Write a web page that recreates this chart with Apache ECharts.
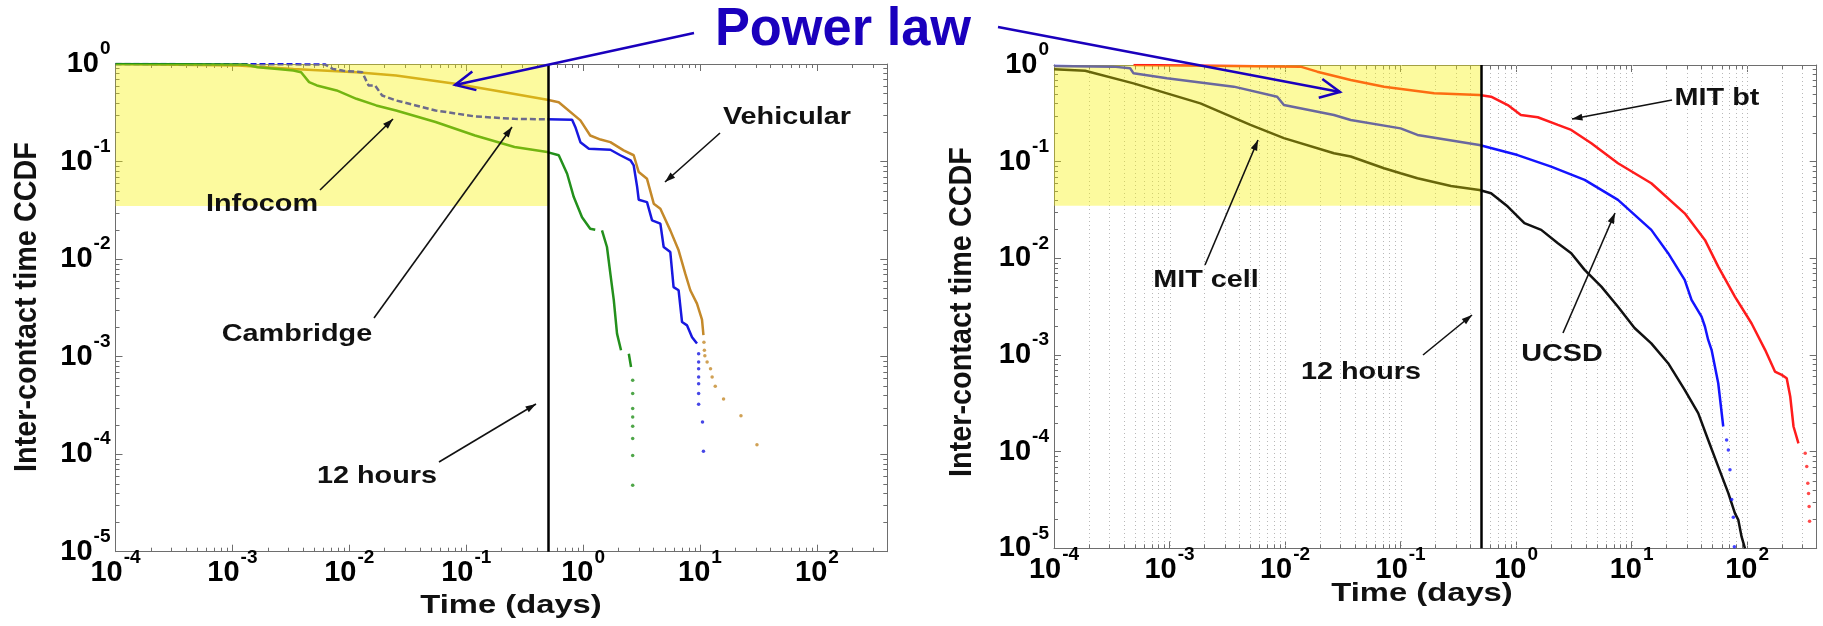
<!DOCTYPE html>
<html>
<head>
<meta charset="utf-8">
<title>Inter-contact time CCDF</title>
<script src="https://cdn.jsdelivr.net/npm/echarts@6/dist/echarts.min.js"></script>
<style>
  html, body { margin: 0; padding: 0; background: #fff; }
  #chart { width: 1823px; height: 626px; }
</style>
</head>
<body>
<div id="chart"></div>
<script>
// axis ranges (days / CCDF)
const xRange = [0.0001, 400];
const yRange = [0.00001, 1];
const minorSteps = [2, 3, 4, 5, 6, 7, 8, 9];
const xDecades = [-4, -3, -2, -1, 0, 1, 2];
const yDecades = [-5, -4, -3, -2, -1];
// yellow "power law" zone and the 12 hours line
const zoneT = [0.0001, 0.5];
const zoneP = [0.035, 1];
const twelveHours = 0.5;

// ---- left panel ----
const vehicularT = [0.0001, 0.00112, 0.00332, 0.0115, 0.0251, 0.0805, 0.175, 0.494, 0.619, 0.948, 1.15, 1.41, 1.71, 2.22, 2.71, 2.99, 3.52, 4.02, 4.58, 5.57, 6.56, 7.48, 8.26, 9.42, 10.4, 10.7];
const vehicularP = [1.0, 0.966, 0.891, 0.824, 0.762, 0.627, 0.536, 0.430, 0.406, 0.264, 0.185, 0.168, 0.158, 0.130, 0.116, 0.078, 0.0665, 0.037, 0.0328, 0.0197, 0.0123, 0.00708, 0.00479, 0.00349, 0.0024, 0.00166];
const vehicularTailT = [10.8, 10.9, 11.0, 11.5, 12.3, 12.7, 13.5, 15.9, 22.4, 30.7];
const vehicularTailP = [0.0014, 0.00116, 0.00102, 0.00088, 0.000753, 0.000617, 0.000497, 0.000368, 0.000248, 0.000125];

const cambridgeT = [0.0001, 0.00618, 0.00721, 0.0089, 0.0129, 0.0146, 0.0166, 0.0191, 0.0251, 0.037, 0.0547, 0.119, 0.259, 0.494, 0.805, 0.859, 0.948, 1.12, 1.71, 2.08, 2.54, 2.71, 2.90, 2.99, 3.52, 3.89, 4.58, 4.89, 5.57, 5.94, 6.56, 7.02, 7.75, 8.55, 9.42];
const cambridgeP = [1.0, 0.99, 0.891, 0.851, 0.824, 0.603, 0.603, 0.475, 0.423, 0.376, 0.334, 0.29, 0.274, 0.271, 0.268, 0.225, 0.158, 0.135, 0.132, 0.116, 0.103, 0.0912, 0.0547, 0.0406, 0.0384, 0.0249, 0.0231, 0.0133, 0.0118, 0.00516, 0.00479, 0.00226, 0.00209, 0.00158, 0.00136];
const cambridgeTailT = [9.73, 9.73, 9.73, 9.73, 9.73, 9.73, 9.73, 10.5, 10.7];
const cambridgeTailP = [0.00107, 0.000881, 0.000753, 0.000618, 0.000528, 0.000418, 0.000324, 0.000214, 0.000107];

// null in P = break in the curve
const infocomT = [0.0001, 0.0013, 0.00164, 0.00243, 0.00332, 0.00387, 0.00453, 0.00528, 0.0078, 0.0115, 0.017, 0.0251, 0.0547, 0.119, 0.259, 0.494, 0.619, 0.73, 0.832, 0.979, 1.15, 1.27, 1.36, 1.45, 1.60, 1.71, 1.83, 1.95, 2.11, 2.28, 2.46, 2.57];
const infocomP = [1.0, 0.99, 0.927, 0.891, 0.857, 0.824, 0.652, 0.603, 0.536, 0.44, 0.376, 0.334, 0.254, 0.185, 0.141, 0.125, 0.116, 0.075, 0.0432, 0.0269, 0.0205, 0.02, null, 0.0197, 0.0133, 0.00708, 0.0038, 0.00172, 0.00116, null, 0.00107, 0.000783];
const infocomTailT = [2.655, 2.655, 2.655, 2.655, 2.655, 2.655, 2.655, 2.655];
const infocomTailP = [0.000571, 0.000418, 0.000293, 0.00024, 0.000193, 0.000145, 0.000097, 0.000048];

// ---- right panel ----
const mitCellT = [0.0001, 0.000186, 0.000488, 0.00185, 0.00502, 0.00977, 0.0265, 0.037, 0.0719, 0.1, 0.14, 0.273, 0.481, 0.607, 0.847, 1.18, 1.65, 2.3, 3.0, 3.92, 5.47, 7.62, 10.6, 14.8, 20.7, 28.8, 37.7, 46.0, 56.2, 68.7, 78.3, 83.8, 89.5, 95.7];
const mitCellP = [0.905, 0.873, 0.646, 0.401, 0.24, 0.175, 0.122, 0.113, 0.0855, 0.0759, 0.0673, 0.0561, 0.0509, 0.0471, 0.0343, 0.0231, 0.0197, 0.0143, 0.0113, 0.00759, 0.00509, 0.00316, 0.0019, 0.00132, 0.000822, 0.000436, 0.00025, 0.000132, 0.00007, 0.0000372, 0.0000231, 0.0000197, 0.0000132, 0.00001];

const ucsdT = [0.0001, 0.000327, 0.000456, 0.000488, 0.00095, 0.0036, 0.00855, 0.00977, 0.0265, 0.037, 0.1, 0.14, 0.481, 1.03, 2.01, 3.92, 7.62, 14.8, 20.7, 28.8, 33.0, 40.3, 43.1, 46.0, 49.2, 56.2, 62.1];
const ucsdP = [0.977, 0.962, 0.925, 0.82, 0.728, 0.597, 0.47, 0.385, 0.304, 0.27, 0.221, 0.189, 0.149, 0.117, 0.0889, 0.0647, 0.0402, 0.0197, 0.0113, 0.00598, 0.00372, 0.00249, 0.00197, 0.00143, 0.00113, 0.00051, 0.000182];
const ucsdTailT = [66.4, 68.7, 71.0, 73.5, 75.9, 77.5];
const ucsdTailP = [0.000132, 0.000104, 0.000065, 0.000032, 0.000021, 0.0000104];

const mitBtT = [0.000488, 0.0036, 0.0136, 0.019, 0.037, 0.0719, 0.195, 0.481, 0.607, 0.847, 1.10, 1.54, 2.3, 3.0, 4.48, 7.62, 14.8, 28.8, 43.1, 56.2, 78.3, 109, 143, 174, 199, 220, 236, 252, 278];
const mitBtP = [1.0, 0.977, 0.962, 0.853, 0.70, 0.597, 0.509, 0.49, 0.47, 0.385, 0.304, 0.288, 0.24, 0.213, 0.155, 0.0962, 0.0598, 0.0292, 0.0155, 0.0082, 0.00402, 0.00213, 0.00113, 0.000673, 0.000622, 0.000575, 0.000372, 0.000182, 0.000122];
const mitBtTailT = [318, 328, 335, 340, 344, 347];
const mitBtTailP = [0.000096, 0.00007, 0.000047, 0.000037, 0.000027, 0.000019];

const FONT = '"Liberation Sans", Arial, sans-serif';
const frameColor = '#6e6e6e';
const zoneColor = 'rgba(248, 242, 0, 0.38)';

const pairs = (ts, ps) => ts.map((t, i) => ps[i] === null ? [t, '-'] : [t, ps[i]]);

// minor tick positions on the log axes
const minorX = [];
xDecades.forEach(d => minorSteps.forEach(k => { const v = k * Math.pow(10, d); if (v < xRange[1]) minorX.push(v); }));
const majorX = xDecades.map(d => Math.pow(10, d));
const minorY = [];
yDecades.forEach(d => minorSteps.forEach(k => minorY.push(k * Math.pow(10, d))));

function powerLabel(v) {
    const e = Math.log10(v);
    const r = Math.round(e);
    if (Math.abs(e - r) > 1e-6) return '';
    return '{b|10}{s|' + r + '}';
}
// the padding lifts the exponent above the digits
const labelRich = {
    b: { fontFamily: FONT, fontWeight: 'bold', fontSize: 29, color: '#000', lineHeight: 29, padding: [10, 0, 10, 0] },
    s: { fontFamily: FONT, fontWeight: 'bold', fontSize: 19, color: '#000', lineHeight: 19, padding: [0, 0, 30, 1] }
};
const labelBase = { show: true, interval: 0, formatter: powerLabel, rich: labelRich, fontFamily: FONT, fontWeight: 'bold', fontSize: 29, color: '#000' };

function makeXAxes(gridIndex) {
    const base = {
        type: 'log', logBase: 10, gridIndex: gridIndex, min: xRange[0], max: xRange[1],
        splitLine: { show: false },
        axisLine: { show: true, onZero: false, lineStyle: { color: frameColor, width: 1 } },
        axisTick: { show: true, inside: true, length: 7, lineStyle: { color: frameColor } }
    };
    return [
        Object.assign({}, base, { position: 'bottom', axisLabel: Object.assign({ margin: 7 }, labelBase) }),
        Object.assign({}, base, { position: 'top', axisLabel: { show: false } })
    ];
}
function makeYAxes(gridIndex) {
    const base = {
        type: 'log', logBase: 10, gridIndex: gridIndex, min: yRange[0], max: yRange[1],
        splitLine: { show: false },
        axisLine: { show: true, onZero: false, lineStyle: { color: frameColor, width: 1 } },
        axisTick: { show: true, inside: true, length: 7, lineStyle: { color: frameColor } }
    };
    return [
        Object.assign({}, base, { position: 'left', axisLabel: Object.assign({ margin: 5 }, labelBase) }),
        Object.assign({}, base, { position: 'right', axisLabel: { show: false } })
    ];
}

// minor ticks on all four sides (+ dotted x grid on the right panel)
function decorSeries(axisIdx, withGrid) {
    return {
        type: 'custom', xAxisIndex: axisIdx.x, yAxisIndex: axisIdx.y, z: 1, silent: true,
        data: [[xRange[0], yRange[0]]],
        renderItem: function (params, api) {
            const cs = params.coordSys;
            const left = cs.x, right = cs.x + cs.width, top = cs.y, bottom = cs.y + cs.height;
            const kids = [];
            const tick = { stroke: frameColor, lineWidth: 1 };
            if (withGrid) {
                majorX.concat(minorX).forEach(v => {
                    const px = Math.round(api.coord([v, yRange[1]])[0]) + 0.5;
                    if (px <= left + 1 || px >= right - 1) return;
                    kids.push({ type: 'line', shape: { x1: px, y1: top, x2: px, y2: bottom }, style: { stroke: '#b8b8b8', lineWidth: 1, lineDash: [1, 3] } });
                });
            }
            minorX.forEach(v => {
                const px = Math.round(api.coord([v, yRange[1]])[0]) + 0.5;
                kids.push({ type: 'line', shape: { x1: px, y1: bottom, x2: px, y2: bottom - 4 }, style: tick });
                kids.push({ type: 'line', shape: { x1: px, y1: top, x2: px, y2: top + 4 }, style: tick });
            });
            minorY.forEach(v => {
                const py = Math.round(api.coord([xRange[0], v])[1]) + 0.5;
                kids.push({ type: 'line', shape: { x1: left, y1: py, x2: left + 4, y2: py }, style: tick });
                kids.push({ type: 'line', shape: { x1: right, y1: py, x2: right - 4, y2: py }, style: tick });
            });
            return { type: 'group', children: kids };
        }
    };
}

function zoneSeries(axisIdx) {
    return {
        type: 'custom', xAxisIndex: axisIdx.x, yAxisIndex: axisIdx.y, z: 3, silent: true,
        data: [[zoneT[0], zoneP[0], zoneT[1], zoneP[1]]],
        encode: { x: [0, 2], y: [1, 3] },
        renderItem: function (params, api) {
            const a = api.coord([api.value(0), api.value(1)]);
            const b = api.coord([api.value(2), api.value(3)]);
            return { type: 'rect', shape: { x: a[0], y: b[1], width: b[0] - a[0], height: a[1] - b[1] }, style: { fill: zoneColor } };
        },
        markLine: {
            silent: true, symbol: ['none', 'none'], label: { show: false },
            lineStyle: { color: '#000', width: 2.5, type: 'solid' },
            data: [{ xAxis: twelveHours }]
        }
    };
}

function lineSeries(name, axisIdx, data, color, dashed) {
    return {
        name: name, type: 'line', xAxisIndex: axisIdx.x, yAxisIndex: axisIdx.y, z: 2,
        data: data, showSymbol: false, symbol: 'none', connectNulls: false,
        lineStyle: { color: color, width: 2.5, type: dashed ? [6, 3] : 'solid' }
    };
}
function dotSeries(name, axisIdx, data, color) {
    return {
        name: name, type: 'scatter', xAxisIndex: axisIdx.x, yAxisIndex: axisIdx.y, z: 2,
        data: data, symbol: 'circle', symbolSize: 3.5, itemStyle: { color: color }
    };
}

const L = { x: 0, y: 0 };
const R = { x: 2, y: 2 };
const cambSplit = cambridgeT.findIndex(t => t >= 0.49);
const cambData = pairs(cambridgeT, cambridgeP);

const series = [
    decorSeries(L, false),
    decorSeries(R, true),
    lineSeries('Vehicular', L, pairs(vehicularT, vehicularP), '#c4892a'),
    dotSeries('Vehicular', L, pairs(vehicularTailT, vehicularTailP), '#c4892a'),
    lineSeries('Cambridge', L, cambData.slice(0, cambSplit + 1), '#1818e0', true),
    lineSeries('Cambridge', L, cambData.slice(cambSplit), '#1818e0'),
    dotSeries('Cambridge', L, pairs(cambridgeTailT, cambridgeTailP), '#1818e0'),
    lineSeries('Infocom', L, pairs(infocomT, infocomP), '#23901c'),
    dotSeries('Infocom', L, pairs(infocomTailT, infocomTailP), '#23901c'),
    lineSeries('MIT bt', R, pairs(mitBtT, mitBtP), '#ff1c1c'),
    dotSeries('MIT bt', R, pairs(mitBtTailT, mitBtTailP), '#ff1c1c'),
    lineSeries('UCSD', R, pairs(ucsdT, ucsdP), '#1414ff'),
    dotSeries('UCSD', R, pairs(ucsdTailT, ucsdTailP), '#1414ff'),
    lineSeries('MIT cell', R, pairs(mitCellT, mitCellP), '#111111'),
    zoneSeries(L),
    zoneSeries(R)
];

// annotations
function label(text, x, y, opt) {
    opt = opt || {};
    return {
        type: 'text', x: x, y: y, z: 100,
        rotation: opt.rotation || 0, scaleX: opt.scaleX || 1.2,
        style: {
            text: text, x: 0, y: 0,
            fill: opt.color || '#111',
            font: 'bold ' + (opt.size || 24) + 'px ' + FONT,
            textAlign: 'center', align: 'center',
            textVerticalAlign: 'middle', verticalAlign: 'middle'
        }
    };
}
function arrow(x1, y1, x2, y2, opt) {
    opt = opt || {};
    const color = opt.color || '#111';
    const w = opt.width || 1.6;
    const head = opt.head || 11;
    const spread = opt.spread || 0.32;
    const back = Math.atan2(y1 - y2, x1 - x2);
    const p1 = [x2 + head * Math.cos(back - spread), y2 + head * Math.sin(back - spread)];
    const p2 = [x2 + head * Math.cos(back + spread), y2 + head * Math.sin(back + spread)];
    const els = [{ type: 'line', z: 100, shape: { x1: x1, y1: y1, x2: x2, y2: y2 }, style: { stroke: color, lineWidth: w } }];
    if (opt.open) {
        els.push({ type: 'polyline', z: 100, shape: { points: [p1, [x2, y2], p2] }, style: { stroke: color, lineWidth: w, fill: null } });
    } else {
        els.push({ type: 'polygon', z: 100, shape: { points: [p1, [x2, y2], p2] }, style: { fill: color } });
    }
    return els;
}

const plawBlue = '#1a00bd';
const graphic = [].concat(
    [label('Power law', 843, 30, { size: 54, scaleX: 0.97, color: plawBlue })],
    arrow(694, 33, 455, 85, { color: plawBlue, width: 2.5, head: 22, spread: 0.45, open: true }),
    arrow(998, 27, 1340, 92, { color: plawBlue, width: 2.5, head: 22, spread: 0.45, open: true }),
    [label('Infocom', 262, 204)], arrow(320, 190, 393, 119),
    [label('Cambridge', 297, 334)], arrow(374, 318, 512, 127),
    [label('Vehicular', 787, 117)], arrow(720, 133, 665, 182),
    [label('12 hours', 377, 476)], arrow(439, 462, 536, 404),
    [label('MIT cell', 1206, 280)], arrow(1205, 265, 1258, 140),
    [label('12 hours', 1361, 372)], arrow(1423, 355, 1472, 315),
    [label('UCSD', 1562, 354)], arrow(1563, 333, 1615, 213),
    [label('MIT bt', 1717, 98)], arrow(1672, 100, 1572, 119),
    [label('Time (days)', 511, 606, { size: 26, scaleX: 1.26 })],
    [label('Time (days)', 1422, 594, { size: 26, scaleX: 1.26 })],
    [label('Inter-contact time CCDF', 27, 307, { size: 31, scaleX: 0.93, rotation: Math.PI / 2 })],
    [label('Inter-contact time CCDF', 962, 312, { size: 31, scaleX: 0.93, rotation: Math.PI / 2 })]
);

const option = {
    backgroundColor: '#ffffff',
    animation: false,
    grid: [
        { left: 115.5, top: 64, width: 771.8, height: 487.7 },
        { left: 1054, top: 65, width: 762.7, height: 483.3 }
    ],
    xAxis: makeXAxes(0).concat(makeXAxes(1)),
    yAxis: makeYAxes(0).concat(makeYAxes(1)),
    series: series,
    graphic: graphic
};

const myChart = echarts.init(document.getElementById('chart'));
myChart.setOption(option);
</script>
</body>
</html>
